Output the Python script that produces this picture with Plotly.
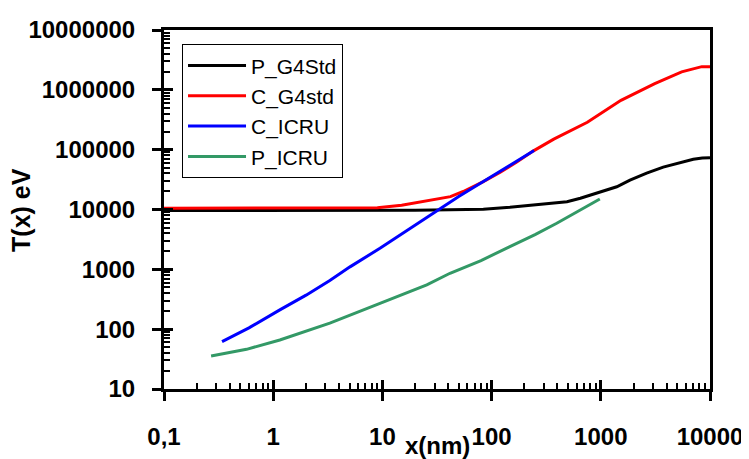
import plotly.graph_objects as go

# ---- data ----
p_g4std_x = [0.1, 1, 3, 10, 20, 41.6, 84, 147, 240, 490, 650, 984, 1400, 1850, 2630, 3730, 5300, 7030, 8500, 10000]
p_g4std_y = [9600, 9600, 9600, 9650, 9750, 9900, 10100, 10900, 11900, 13500, 15400, 19500, 24000, 31000, 40500, 51000, 61000, 69000, 72500, 73500]

c_g4std_x = [0.1, 1, 5, 9, 15, 20, 30, 42, 55, 70, 84, 120, 170, 242, 371, 753, 1530, 3120, 5500, 8410, 10000]
c_g4std_y = [10500, 10500, 10500, 10700, 11800, 12900, 14500, 16400, 20000, 24500, 29300, 42000, 62000, 95500, 150000, 287000, 667000, 1270000, 2000000, 2440000, 2440000]

c_icru_x = [0.34, 0.6, 1.15, 2, 3.3, 5.05, 9.5, 15, 29, 50, 84, 150, 245]
c_icru_y = [62, 105, 210, 370, 650, 1100, 2250, 3900, 8800, 16500, 29300, 57000, 97000]

p_icru_x = [0.27, 0.57, 1.15, 3.3, 9.5, 25.5, 41.6, 80, 147, 250, 395, 646, 980]
p_icru_y = [35.6, 46, 66, 126, 270, 550, 860, 1400, 2400, 3800, 5900, 9800, 15000]

x_tickvals = [0.1, 1, 10, 100, 1000, 10000]
x_ticktext = ["0,1", "1", "10", "100", "1000", "10000"]
y_tickvals = [10, 100, 1000, 10000, 100000, 1000000, 10000000]
y_ticktext = ["10", "100", "1000", "10000", "100000", "1000000", "10000000"]

x_minor = [m * d for d in x_tickvals[:-1] for m in range(2, 10)]
y_minor = [m * d for d in y_tickvals[:-1] for m in range(2, 10)]

FONT = "Liberation Sans, Arial, sans-serif"

fig = go.Figure()
series = [
    ("P_G4Std", p_g4std_x, p_g4std_y, "#000000"),
    ("C_G4std", c_g4std_x, c_g4std_y, "#ff0000"),
    ("C_ICRU", c_icru_x, c_icru_y, "#0000ff"),
    ("P_ICRU", p_icru_x, p_icru_y, "#339966"),
]
for name, xs, ys, col in series:
    fig.add_trace(go.Scatter(x=xs, y=ys, mode="lines", name=name,
                             line=dict(color=col, width=3)))

# empty helper trace so the overlay axes (inner half of the major ticks) are drawn
fig.add_trace(go.Scatter(x=[], y=[], xaxis="x2", yaxis="y2", showlegend=False,
                         hoverinfo="skip"))

common = dict(type="log", showgrid=False, zeroline=False, showline=True,
              linecolor="black", linewidth=3, mirror=True, automargin=False,
              ticks="outside", ticklen=9, tickwidth=3, tickcolor="black",
              tickmode="array",
              tickfont=dict(family=FONT, size=24, color="black", weight="bold"))

# the page body has an 8px default margin, so the margins below compensate
fig.update_layout(
    width=749, height=459,
    margin=dict(l=156, r=47, t=22, b=78, autoexpand=False),
    paper_bgcolor="white", plot_bgcolor="white",
    showlegend=True,
    xaxis=dict(range=[-1, 4], tickvals=x_tickvals, ticktext=x_ticktext,
               ticklabelstandoff=15,
               minor=dict(tickmode="array", tickvals=x_minor, ticks="inside", ticklen=6,
                          tickwidth=2, tickcolor="black", showgrid=False),
               **common),
    yaxis=dict(range=[1, 7], tickvals=y_tickvals, ticktext=y_ticktext,
               ticklabelstandoff=12,
               minor=dict(tickmode="array", tickvals=y_minor, ticks="inside", ticklen=6,
                          tickwidth=2, tickcolor="black", showgrid=False),
               **common),
    xaxis2=dict(type="log", range=[-1, 4], overlaying="x", anchor="y", side="bottom",
                tickmode="array", tickvals=x_tickvals, ticks="inside", ticklen=9, tickwidth=3,
                tickcolor="black", showticklabels=False, showgrid=False,
                showline=False, zeroline=False, automargin=False),
    yaxis2=dict(type="log", range=[1, 7], overlaying="y", anchor="x", side="left",
                tickmode="array", tickvals=y_tickvals, ticks="inside", ticklen=9, tickwidth=3,
                tickcolor="black", showticklabels=False, showgrid=False,
                showline=False, zeroline=False, automargin=False),
    legend=dict(x=0.033, y=0.96, xanchor="left", yanchor="top",
                bgcolor="white", bordercolor="black", borderwidth=1,
                itemwidth=58, tracegroupgap=0,
                font=dict(family=FONT, size=21, color="black")),
    annotations=[
        dict(text="<b>x(nm)</b>", xref="paper", yref="paper", x=0.5, y=-0.158,
             xanchor="center", yanchor="middle", showarrow=False,
             font=dict(family=FONT, size=24, color="black")),
        dict(text="<b>T(x) eV</b>", xref="paper", yref="paper", x=-0.263, y=0.5,
             xanchor="center", yanchor="middle", textangle=-90, showarrow=False,
             font=dict(family=FONT, size=25, color="black")),
    ],
)

fig.write_html("out.html")
